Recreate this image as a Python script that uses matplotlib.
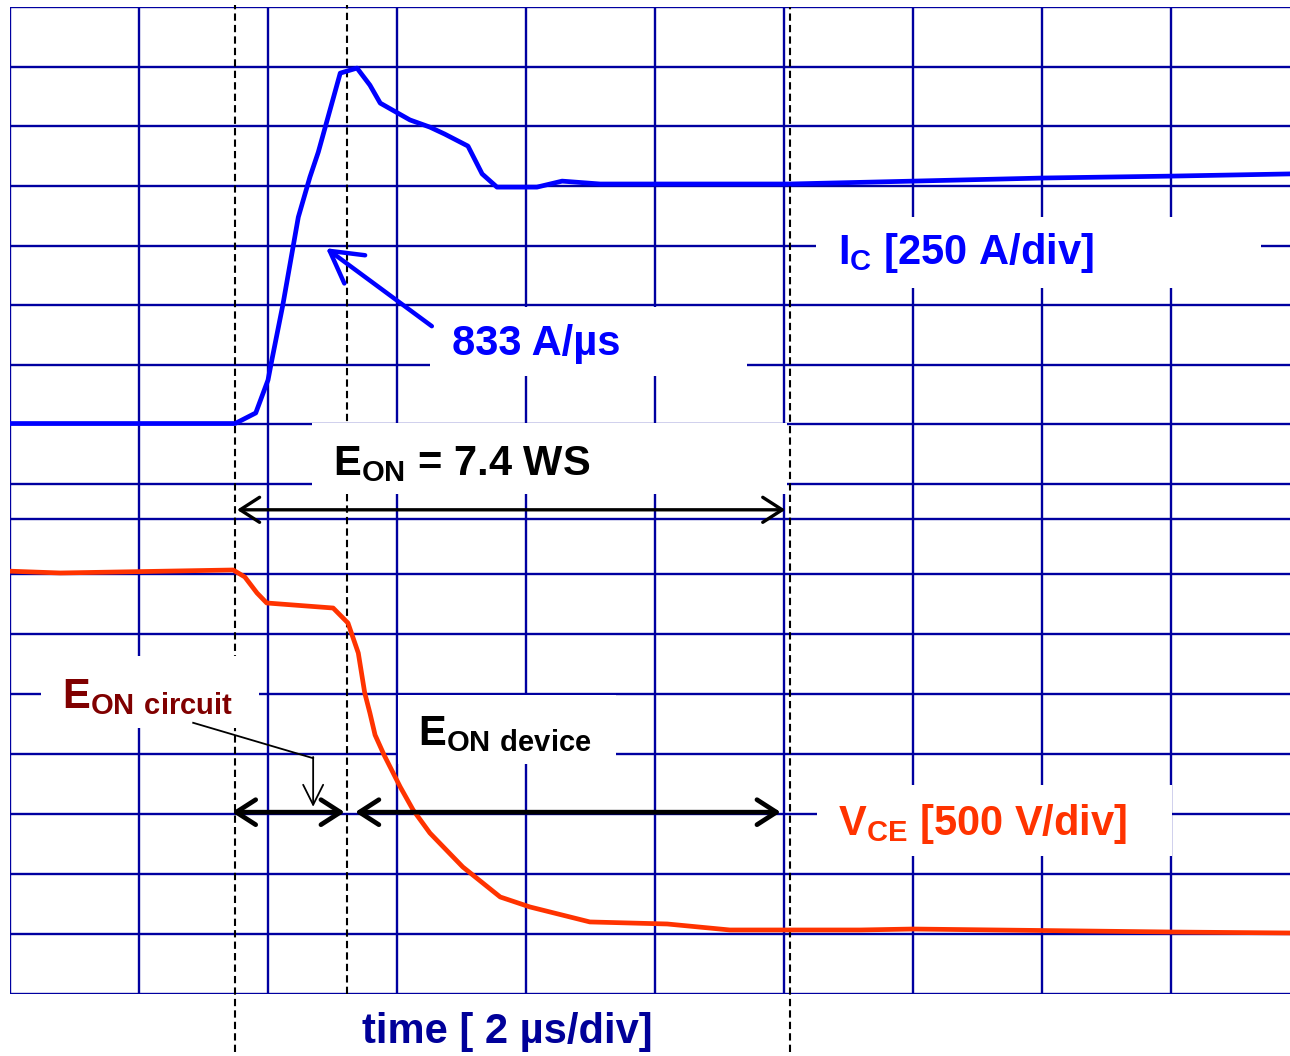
import numpy as np
import matplotlib
matplotlib.use('Agg')
import matplotlib.pyplot as plt
from matplotlib.patches import Rectangle, FancyArrowPatch

plt.rcParams['font.family'] = ['Liberation Sans', 'DejaVu Sans']
plt.rcParams['font.weight'] = 'bold'
plt.rcParams['mathtext.fontset'] = 'custom'
plt.rcParams['mathtext.bf'] = 'Liberation Sans:bold'
plt.rcParams['mathtext.rm'] = 'Liberation Sans:bold'

# turn-on waveforms, time in us
t_ic = [0, 3.49, 3.81, 4.00, 4.06, 4.23, 4.47, 4.65, 4.78, 5.12, 5.38, 5.58,
        5.74, 6.20, 6.51, 6.74, 7.10, 7.32, 7.55, 8.17, 8.56, 9.15, 12.09,
        14.00, 16.03, 18.03, 19.84]
ic = [0, 0, 44, 181, 265, 494, 860, 1027, 1131, 1460, 1481, 1410, 1335, 1265,
      1235, 1206, 1156, 1040, 985, 985, 1010, 998, 998, 1010, 1023, 1031, 1040]

t_vce = [0, 0.78, 3.46, 3.64, 3.83, 3.98, 5.01, 5.24, 5.40, 5.50, 5.58, 5.66,
         5.80, 6.05, 6.25, 6.51, 7.02, 7.60, 8.06, 8.99, 10.19, 11.16, 13.18,
         14.00, 18.03, 19.84]
vce = [3015, 3000, 3025, 2967, 2833, 2750, 2708, 2583, 2333, 2000, 1833, 1650,
       1483, 1217, 1025, 833, 550, 300, 217, 92, 75, 25, 25, 33, 8, 0]

# switching instants (us)
t_on = 3.49
t_vfall = 5.22
t_end = 12.09

# scope settings
IC_SCALE = 250     # A/div
VCE_SCALE = 500    # V/div
IC_ZERO = 9.508    # div
VCE_ZERO = 1.017   # div

GRID = '#0000A0'
BLUE = '#0000FF'
RED = '#FF3300'

fig = plt.figure(figsize=(12.9, 10.56), dpi=100)
ax = fig.add_axes([10 / 1290, 62 / 1056, 1280 / 1290, 987 / 1056])
ax.set_xlim(0, 19.845)
ax.set_ylim(0, 16.45)
ax.axis('off')

# scope grid (two stacked screens)
for x in np.arange(0, 19, 2):
    ax.axvline(x, color=GRID, lw=1.7, zorder=1)
for y in list(np.arange(0, 8)) + [7.92]:
    ax.axhline(y, color=GRID, lw=1.7, zorder=1)
for y in np.linspace(8.5, 16.45, 9):
    ax.axhline(y, color=GRID, lw=1.7, zorder=1)

# markers of the switching interval
dash = (0, (3.5, 2))
ax.plot([t_on, t_on], [-0.97, 16.48], color='black', lw=1.5, ls=dash, clip_on=False, zorder=2)
ax.plot([t_vfall, t_vfall], [0, 16.48], color='black', lw=1.5, ls=dash, clip_on=False, zorder=2)
ax.plot([t_end, t_end], [-0.97, 16.45], color='black', lw=1.5, ls=dash, clip_on=False, zorder=2)

# white label backgrounds
for x0, x1, y0, y1 in [(12.50, 19.40, 11.77, 12.95),
                       (6.51, 11.43, 10.30, 11.45),
                       (4.68, 12.05, 8.33, 9.52),
                       (0.48, 3.86, 4.43, 5.63),
                       (6.02, 9.40, 3.83, 4.98),
                       (12.51, 18.02, 2.30, 3.48)]:
    ax.add_patch(Rectangle((x0, y0), x1 - x0, y1 - y0, facecolor='white',
                           edgecolor='none', zorder=3))

# traces
ax.plot(t_ic, IC_ZERO + np.array(ic) / IC_SCALE, color=BLUE, lw=3.4, zorder=4,
        solid_joinstyle='round')
ax.plot(t_vce, VCE_ZERO + np.array(vce) / VCE_SCALE, color=RED, lw=3.4, zorder=4,
        solid_joinstyle='round')


def arrow(p0, p1, style, color, lw, scale):
    ax.add_patch(FancyArrowPatch(p0, p1, arrowstyle=style, color=color, lw=lw,
                                 mutation_scale=scale, shrinkA=0, shrinkB=0,
                                 zorder=5, clip_on=False))


both = '<->,head_length=0.7,head_width=0.45'
arrow((3.52, 8.07), (12.02, 8.07), both, 'black', 2.4, 20)
arrow((3.44, 3.03), (5.19, 3.03), both, 'black', 3.4, 20)
arrow((5.35, 3.03), (11.95, 3.03), both, 'black', 3.4, 20)

# di/dt callout
arrow((6.54, 11.13), (4.90, 12.43), '->,head_length=0.8,head_width=0.45', BLUE, 3.2, 28)

# E_ON circuit callout
ax.plot([2.84, 4.70], [4.52, 3.93], color='black', lw=1.3, zorder=5)
arrow((4.70, 3.95), (4.70, 3.12), '->,head_length=0.8,head_width=0.4', 'black', 1.3, 18)

fs = 30
ax.text(12.84, 12.17, r'I$_{\mathbf{C}}$ [250 A/div]', color=BLUE, fontsize=fs,
        va='baseline', zorder=6)
ax.text(6.85, 10.65, '833 A/µs', color=BLUE, fontsize=fs, va='baseline', zorder=6)
ax.text(5.01, 8.65, r'E$_{\mathbf{ON}}$ = 7.4 WS', color='black', fontsize=fs,
        va='baseline', zorder=6)
ax.text(0.81, 4.77, r'E$_{\mathbf{ON\ circuit}}$', color='#800000', fontsize=fs,
        va='baseline', zorder=6)
ax.text(6.33, 4.15, r'E$_{\mathbf{ON\ device}}$', color='black', fontsize=fs,
        va='baseline', zorder=6)
ax.text(12.84, 2.65, r'V$_{\mathbf{CE}}$ [500 V/div]', color=RED, fontsize=fs,
        va='baseline', zorder=6)
ax.text(5.46, -0.82, 'time [ 2 µs/div]', color='#000099', fontsize=fs,
        va='baseline', zorder=6, clip_on=False)

fig.savefig('out.png', dpi=100, facecolor='white')
